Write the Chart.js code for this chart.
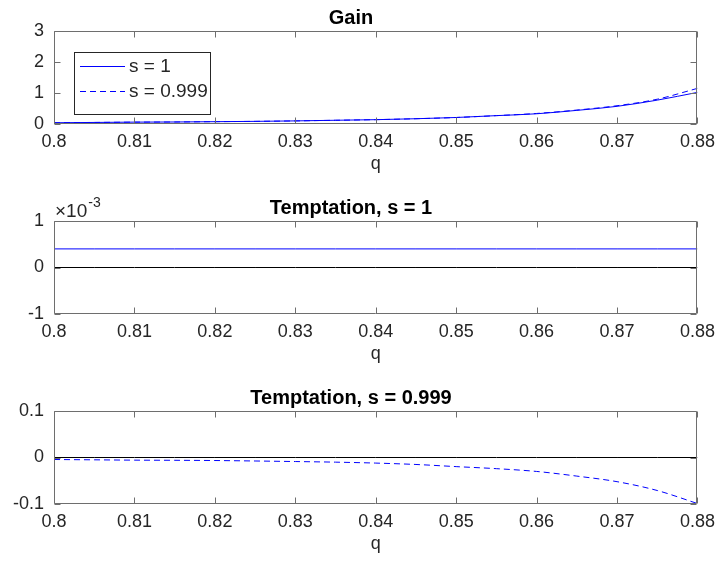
<!DOCTYPE html>
<html><head><meta charset="utf-8">
<script src="https://cdn.jsdelivr.net/npm/chart.js@4.4.0/dist/chart.umd.min.js"></script>
<style>
html,body{margin:0;padding:0;background:#fff;}
#wrap{position:relative;width:722px;height:572px;overflow:hidden;background:#fff;}
canvas{position:absolute;left:0;}
</style></head><body>
<div id="wrap">
<canvas id="c1" style="top:0px" width="722" height="190"></canvas>
<canvas id="c2" style="top:190px" width="722" height="190"></canvas>
<canvas id="c3" style="top:380px" width="722" height="190"></canvas>
</div>
<script>
// ---- data ----
const q = [0.800,0.805,0.810,0.815,0.820,0.825,0.830,0.835,0.840,0.845,0.850,0.855,0.860,0.865,0.870,0.875,0.880];
const gainS1    = [0.04,0.05,0.06,0.065,0.075,0.085,0.10,0.12,0.14,0.17,0.21,0.27,0.33,0.44,0.57,0.77,1.02];
const gainS0999 = [0.04,0.05,0.06,0.065,0.075,0.085,0.10,0.12,0.14,0.17,0.21,0.27,0.34,0.45,0.59,0.80,1.15];
const temptS1   = [0.0004,0.0004,0.0004,0.0004,0.0004,0.0004,0.0004,0.0004,0.0004,0.0004,0.0004,0.0004,0.0004,0.0004,0.0004,0.0004,0.0004];
const temptS0999 = [-0.0043,-0.005,-0.0057,-0.006,-0.0065,-0.0075,-0.0087,-0.010,-0.012,-0.015,-0.0196,-0.024,-0.030,-0.040,-0.052,-0.071,-0.099];
const zeroLine = q.map(() => 0);
const titles = ['Gain', 'Temptation, s = 1', 'Temptation, s = 0.999'];
const seriesLabels = ['s = 1', 's = 0.999'];
const xLabel = 'q';
const xTicks = [0.8,0.81,0.82,0.83,0.84,0.85,0.86,0.87,0.88];
const yRange1 = [0, 3, 1];
const yRange2 = [-0.001, 0.001, 0.001];
const yRange3 = [-0.1, 0.1, 0.1];
const exponentText = ['\u00D710', '-3'];

// ---- helpers ----
const FONT = "'Liberation Sans', Arial, Helvetica, sans-serif";
const TXT = '#262626';
const BLUE = '#0000ff';
const pts = arr => q.map((x, i) => ({x, y: arr[i]}));

const boxPlugin = {
  id: 'mbox',
  afterDatasetsDraw(chart) {
    const {ctx, chartArea: a, scales: {x, y}} = chart;
    const L = Math.round(a.left) + 0.5, R = Math.round(a.right) - 0.5;
    const T = Math.round(a.top) + 0.5, B = Math.round(a.bottom) - 0.5;
    ctx.save();
    ctx.strokeStyle = '#6e6e6e';
    ctx.lineWidth = 1;
    ctx.beginPath();
    ctx.rect(L, T, R - L, B - T);
    const tl = 6;
    x.ticks.forEach(t => {
      const p = Math.round(x.getPixelForValue(t.value)) + 0.5;
      ctx.moveTo(p, B); ctx.lineTo(p, B - tl);
      ctx.moveTo(p, T); ctx.lineTo(p, T + tl);
    });
    y.ticks.forEach(t => {
      const p = Math.round(y.getPixelForValue(t.value)) + 0.5;
      ctx.moveTo(L, p); ctx.lineTo(L + tl, p);
      ctx.moveTo(R, p); ctx.lineTo(R - tl, p);
    });
    ctx.stroke();
    ctx.restore();
  }
};

const legendPlugin = {
  id: 'mlegend',
  afterDraw(chart, args, opts) {
    if (!opts || !opts.show) return;
    const {ctx, chartArea: a} = chart;
    const bx = a.left + 20, by = a.top + 21, bw = 136, bh = 62;
    ctx.save();
    ctx.fillStyle = '#fff';
    ctx.fillRect(bx, by, bw, bh);
    ctx.strokeStyle = '#262626';
    ctx.lineWidth = 1;
    ctx.strokeRect(bx + 0.5, by + 0.5, bw, bh);
    const items = chart.data.datasets.filter(d => d.label && d.label !== 'zero');
    items.forEach((d, i) => {
      const yy = Math.round(by + 14 + i * 24.5);
      ctx.beginPath();
      ctx.strokeStyle = d.borderColor;
      ctx.lineWidth = 1;
      ctx.setLineDash(d.borderDash || []);
      ctx.moveTo(bx + 6, yy + 0.5); ctx.lineTo(bx + 51, yy + 0.5);
      ctx.stroke();
      ctx.setLineDash([]);
      ctx.fillStyle = TXT;
      ctx.font = '19px ' + FONT;
      ctx.textBaseline = 'middle';
      ctx.textAlign = 'left';
      ctx.fillText(d.label, bx + 55, yy + 1);
    });
    ctx.restore();
  }
};

const expPlugin = {
  id: 'mexp',
  afterDraw(chart, args, opts) {
    if (!opts || !opts.show) return;
    const {ctx, chartArea: a} = chart;
    ctx.save();
    ctx.fillStyle = TXT;
    ctx.textBaseline = 'alphabetic';
    ctx.textAlign = 'left';
    ctx.font = '19px ' + FONT;
    ctx.fillText(exponentText[0], a.left + 1, a.top - 4);
    const w = ctx.measureText(exponentText[0]).width;
    ctx.font = '14px ' + FONT;
    ctx.fillText(exponentText[1], a.left + 2 + w, a.top - 14);
    ctx.restore();
  }
};

function makeChart(id, title, datasets, yr, yFmt, extra) {
  return new Chart(document.getElementById(id), {
    type: 'line',
    data: {datasets},
    options: {
      responsive: false,
      animation: false,
      devicePixelRatio: 1,
      layout: {padding: {left: 0, right: 20, top: 0, bottom: 0}},
      elements: {point: {radius: 0}, line: {tension: 0}},
      plugins: {
        legend: {display: false},
        tooltip: {enabled: false},
        title: {display: true, text: title, color: '#000',
                font: {family: FONT, size: 20, weight: 'bold', lineHeight: 1.2},
                padding: {top: 6, bottom: 1}},
        mlegend: {show: !!(extra && extra.legend)},
        mexp: {show: !!(extra && extra.exp)}
      },
      scales: {
        x: {
          type: 'linear', min: 0.8, max: 0.88,
          afterBuildTicks: s => { s.ticks = xTicks.map(v => ({value: v})); },
          afterFit: s => { s.height = 66; },
          grid: {display: false, drawTicks: false},
          border: {display: false},
          ticks: {color: TXT, font: {family: FONT, size: 18}, padding: 7, maxRotation: 0,
                  callback: v => String(Number(v.toFixed(2)))},
          title: {display: true, text: xLabel, color: TXT,
                  font: {family: FONT, size: 18, lineHeight: 1.2}, padding: {top: 0, bottom: 15}}
        },
        y: {
          type: 'linear', min: yr[0], max: yr[1],
          ticks: {stepSize: yr[2], color: TXT, font: {family: FONT, size: 18}, padding: 10,
                  callback: yFmt},
          afterFit: s => { s.width = 54; },
          grid: {display: false, drawTicks: false},
          border: {display: false}
        }
      }
    },
    plugins: [boxPlugin, legendPlugin, expPlugin]
  });
}

makeChart('c1', titles[0], [
  {label: 'zero', data: pts(zeroLine), borderColor: '#000', borderWidth: 1},
  {label: seriesLabels[0], data: pts(gainS1), borderColor: BLUE, borderWidth: 1, cubicInterpolationMode: 'monotone'},
  {label: seriesLabels[1], data: pts(gainS0999), borderColor: BLUE, borderWidth: 1, borderDash: [6, 4], cubicInterpolationMode: 'monotone'}
], yRange1, v => String(Math.round(v)), {legend: true});

makeChart('c2', titles[1], [
  {label: 'zero', data: pts(zeroLine), borderColor: '#000', borderWidth: 1},
  {label: seriesLabels[0], data: pts(temptS1), borderColor: BLUE, borderWidth: 1}
], yRange2, v => String(Math.round(v * 1000)), {exp: true});

makeChart('c3', titles[2], [
  {label: 'zero', data: pts(zeroLine), borderColor: '#000', borderWidth: 1},
  {label: seriesLabels[1], data: pts(temptS0999), borderColor: BLUE, borderWidth: 1, borderDash: [6, 4], cubicInterpolationMode: 'monotone'}
], yRange3, v => String(Math.round(v * 10) / 10), {});
</script>
</body></html>
